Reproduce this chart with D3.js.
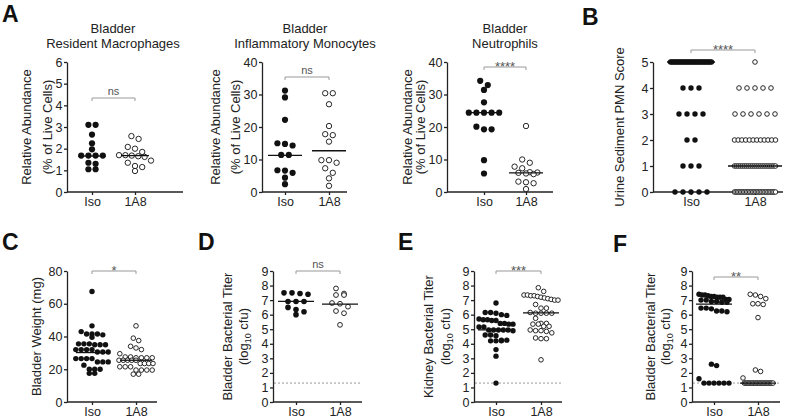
<!DOCTYPE html>
<html><head><meta charset="utf-8">
<script src="https://cdn.jsdelivr.net/npm/d3@7"></script>
<style>
body{margin:0;background:#fff}
text{font-family:"Liberation Sans",Arial,Helvetica,sans-serif;fill:#222}
</style>
</head><body>
<svg id="chart" width="789" height="418"></svg>
<script>
// ---------------- DATA ----------------
const groups = ["Iso", "1A8"];

// A: Bladder resident macrophages (% live cells)
const macroIso  = [3.1,3.1,2.65,2.25,1.97,1.68,1.68,1.68,1.68,1.35,1.3,1.05,1.05];
const macro1A8  = [2.58,2.45,2.08,2.0,1.85,1.7,1.7,1.68,1.65,1.62,1.45,1.35,1.2,1.15,0.97];
const macroMed  = [1.66, 1.68];
// A: Bladder inflammatory monocytes
const monoIso   = [31.2,29.1,22.2,15,14.8,14.3,11.4,11.4,6.7,6.6,5.9,4.4,2.4];
const mono1A8   = [30.4,30.4,27,20.3,17.8,17.5,15.5,9.8,9.8,9,7.3,5.9,4.2,1.9];
const monoMed   = [11.3, 12.7];
// A: Bladder neutrophils
const neutIso   = [34.2,32.9,31.4,27.6,24.4,24.4,24.4,24.4,24.4,20.1,19.3,19.3,9.8,5.7];
const neut1A8   = [20.3,10,9,7.8,7.3,6.1,6.0,5.9,5.7,5.5,3.2,3.0,2.7,0.9];
const neutMed   = [24.4, 5.9];
// B: Urine sediment PMN score (counts of animals per score)
const pmnScores   = [0,1,2,3,4,5];
const pmnIsoCount = [5,3,2,4,3,30];
const pmn1A8Count = [28,22,12,6,5,1];
const pmnMed      = [5, 1];
// C: Bladder weight (mg)
const weightIso = [67.5,46.5,43,41.5,41.5,41.5,41,39.5,35.5,35.5,35.5,35,35,35,32,32,32,32,30.5,30.5,30.5,26.5,26.5,26.5,26.5,24.5,24.5,24.5,22.5,20,20,20,17.5,17.5];
const weight1A8 = [46.5,39,37.5,34,33,32,29.5,27.5,27.5,27,27,27,27,25.5,25.5,25.5,25.5,25.5,23.5,23.5,23.5,23.5,21.5,21.5,21.5,19.5,19.5,19.5,19.5,17,17];
const weightMed = [30.2, 25.5];
// D: Bladder bacterial titer (log10 cfu)
const bladIso   = [7.5,7.45,7.4,7.5,6.9,6.9,6.9,6.35,6.0,6.2,6.5];
const blad1A8   = [7.8,7.35,7.35,7.45,6.75,6.8,6.55,6.25,6.1,5.3];
const bladMed   = [6.92, 6.73];
// E: Kidney bacterial titer (log10 cfu)
const kidIso    = [6.8,6.15,6.15,6.1,6.0,5.95,5.7,5.65,5.65,5.6,5.6,5.4,5.4,5.35,5.35,5.15,5.15,4.95,4.95,4.95,4.95,4.95,4.9,4.6,4.6,4.55,4.25,4.25,4.2,4.2,4.2,3.6,3.15,1.3];
const kid1A8    = [7.85,7.6,7.35,7.35,7.3,7.3,7.25,7.2,7.15,7.1,7.05,7.0,7.0,6.7,6.45,6.45,6.15,6.1,6.1,6.1,6.1,5.75,5.4,5.4,5.35,5.35,5.2,5.2,4.95,4.9,4.9,4.85,4.75,4.4,4.35,4.35,2.9];
const kidMed    = [4.95, 6.12];
// F: Bladder bacterial titer (log10 cfu), second experiment
const blad2Iso  = [7.4,7.35,7.35,7.3,7.25,7.2,7.2,7.25,7.2,7.05,7.05,7.0,7.0,6.9,6.9,6.85,6.85,6.45,6.45,6.4,6.25,6.25,6.2,2.6,2.5,1.6,1.3,1.3,1.3,1.3,1.3,1.3];
const blad21A8  = [7.4,7.35,7.25,7.1,6.75,6.7,6.75,5.8,2.2,2.1,1.65,1.3,1.3,1.3,1.3,1.3,1.3,1.3,1.3,1.3,1.3,1.3,1.3,1.3,1.3,1.3,1.3,1.3,1.3,1.3,1.3,1.3,1.3];
const blad2Med  = [6.73, 1.3];

const lod = 1.3;
const significance = ["ns","ns","****","****","*","ns","***","**"];

// expand PMN counts into values
const expand = (scores, counts) => scores.flatMap((s,i)=>d3.range(counts[i]).map(()=>s));
const pmnIso = expand(pmnScores, pmnIsoCount);
const pmn1A8 = expand(pmnScores, pmn1A8Count);

// ---------------- LAYOUT ----------------
const svg = d3.select("#chart");
const TOP1=62, BOT1=192, TOP2=271, BOT2=402;

const panels = [
 {iso:macroIso, tx:macro1A8, med:macroMed, dom:[0,6], ticks:d3.range(0,7), L:67, R:183, xs:[92,135], top:TOP1, bot:BOT1,
  title:["Bladder","Resident Macrophages"], tX:113, ylab:["Relative Abundance","(% of Live Cells)"], yX:[26,47], sig:significance[0], bY:98,
  r:3.1, step:7.2, maxW:32, mh:14},
 {iso:monoIso, tx:mono1A8, med:monoMed, dom:[0,40], ticks:d3.range(0,41,10), L:262, R:347, xs:[285,329], top:TOP1, bot:BOT1,
  title:["Bladder","Inflammatory Monocytes"], tX:305, ylab:["Relative Abundance","(% of Live Cells)"], yX:[215,235], sig:significance[1], bY:77,
  r:3.1, step:7.6, maxW:32, mh:17},
 {iso:neutIso, tx:neut1A8, med:neutMed, dom:[0,40], ticks:d3.range(0,41,10), L:447, R:553, xs:[484,526], top:TOP1, bot:BOT1,
  title:["Bladder","Neutrophils"], tX:505, ylab:["Relative Abundance","(% of Live Cells)"], yX:[407,420], sig:significance[2], bY:67,
  r:3.1, step:7.6, maxW:32, mh:17},
 {iso:pmnIso, tx:pmn1A8, med:pmnMed, dom:[0,5], ticks:d3.range(0,6), L:653, R:783, xs:[691,755], top:TOP1, bot:BOT1,
  title:null, ylab:["Urine Sediment PMN Score"], yX:[619], sig:significance[3], bY:50,
  r:2.7, step:8, maxW:41, mh:[24,27]},
 {iso:weightIso, tx:weight1A8, med:weightMed, dom:[0,80], ticks:d3.range(0,81,20), L:67, R:157, xs:[92,136], top:TOP2, bot:BOT2,
  title:null, ylab:["Bladder Weight  (mg)"], yX:[36], sig:significance[4], bY:271,
  r:2.7, step:5.4, maxW:34, mh:16},
 {iso:bladIso, tx:blad1A8, med:bladMed, dom:[0,9], ticks:d3.range(0,10), L:273, R:362, xs:[296,340], top:TOP2, bot:BOT2,
  title:null, ylab:["Bladder Bacterial Titer","LOG"], yX:[227,243], sig:significance[5], bY:271, lod:true,
  r:2.8, step:8, maxW:26, mh:18},
 {iso:kidIso, tx:kid1A8, med:kidMed, dom:[0,9], ticks:d3.range(0,10), L:474, R:562, xs:[496,541], top:TOP2, bot:BOT2,
  title:null, ylab:["Kidney Bacterial Titer","LOG"], yX:[428,445], sig:significance[6], bY:271, lod:true,
  r:2.7, step:5.4, maxW:34, mh:18},
 {iso:blad2Iso, tx:blad21A8, med:blad2Med, dom:[0,9], ticks:d3.range(0,10), L:692, R:780, xs:[714,758], top:TOP2, bot:BOT2,
  title:null, ylab:["Bladder Bacterial Titer","LOG"], yX:[650,665], sig:significance[7], bY:277, lod:true,
  r:2.7, step:5.2, maxW:30, mh:18},
];

const letters = [["A",2,22],["B",582,25],["C",2,250],["D",198,250],["E",398,250],["F",613,252]];

// row-based scatter layout (GraphPad-like)
function swarm(values, y, cx, d, step, maxW){
  const pts = values.map(v=>({v, py:y(v)})).sort((a,b)=>a.py-b.py);
  const rows=[]; let cur=null;
  pts.forEach(p=>{
    if(!cur || p.py - cur.y0 > d*0.95){ cur={y0:p.py, pts:[]}; rows.push(cur); }
    cur.pts.push(p);
  });
  rows.forEach(r=>{
    const n=r.pts.length;
    const s = n>1 ? Math.min(step, maxW/(n-1)) : 0;
    r.pts.forEach((p,i)=>{ p.px = cx + (i-(n-1)/2)*s; });
  });
  return pts;
}

panels.forEach(p=>{
  const g = svg.append("g");
  const y = d3.scaleLinear().domain(p.dom).range([p.bot, p.top]);
  const x = d3.scalePoint().domain(groups).range(p.xs);

  // LOD dotted line
  if(p.lod){
    g.append("line").attr("x1",p.L+1).attr("x2",p.R).attr("y1",y(lod)).attr("y2",y(lod))
      .attr("stroke","#999").attr("stroke-width",1).attr("stroke-dasharray","2,2");
  }

  // y axis
  const ya = g.append("g").attr("transform",`translate(${p.L},0)`)
    .call(d3.axisLeft(y).tickValues(p.ticks).tickSize(3).tickSizeOuter(0).tickPadding(1.5).tickFormat(d3.format("d")));
  ya.selectAll("path,line").attr("stroke","#222").attr("stroke-width",1.3);
  ya.selectAll("text").attr("font-size",12.5).attr("fill","#222").style("font-family","Liberation Sans, Arial, sans-serif");

  // x axis
  const xa = g.append("g").attr("transform",`translate(0,${p.bot})`)
    .call(d3.axisBottom(x).tickSize(3).tickSizeOuter(0).tickPadding(2));
  xa.select(".domain").remove();
  xa.selectAll("line").attr("stroke","#222").attr("stroke-width",1.3);
  xa.selectAll("text").attr("font-size",12.5).attr("fill","#222").style("font-family","Liberation Sans, Arial, sans-serif");
  g.append("line").attr("x1",p.L).attr("x2",p.R).attr("y1",p.bot).attr("y2",p.bot)
    .attr("stroke","#222").attr("stroke-width",1.3);

  // points
  const d = p.r*2;
  const isoPts = swarm(p.iso, y, x("Iso"), d, p.step, p.maxW);
  const txPts  = swarm(p.tx,  y, x("1A8"), d, p.step, p.maxW);
  g.selectAll(".iso").data(isoPts).join("circle")
    .attr("cx",q=>q.px).attr("cy",q=>q.py).attr("r",p.r).attr("fill","#111");
  g.selectAll(".tx").data(txPts).join("circle")
    .attr("cx",q=>q.px).attr("cy",q=>q.py).attr("r",p.r-0.4).attr("fill","#fff")
    .attr("stroke","#111").attr("stroke-width",0.9);

  // median lines
  groups.forEach((gr,i)=>{
    const mh = Array.isArray(p.mh) ? p.mh[i] : p.mh;
    g.append("line").attr("x1",x(gr)-mh).attr("x2",x(gr)+mh)
      .attr("y1",y(p.med[i])).attr("y2",y(p.med[i])).attr("stroke","#111").attr("stroke-width",1.3);
  });

  // significance bracket
  const x1=x("Iso"), x2=x("1A8"), by=p.bY;
  g.append("path").attr("d",`M${x1},${by+3}V${by}H${x2}V${by+3}`)
    .attr("fill","none").attr("stroke","#999").attr("stroke-width",1);
  const isStar = p.sig.startsWith("*");
  g.append("text").attr("x",(x1+x2)/2).attr("y", isStar ? by+3.5 : by-3)
    .attr("text-anchor","middle").attr("font-size", isStar ? 13 : 11).style("fill","#555")
    .text(p.sig);

  // title
  if(p.title){
    p.title.forEach((t,i)=>{
      g.append("text").attr("x",p.tX).attr("y",33+i*14.5).attr("text-anchor","middle")
        .attr("font-size",13).text(t);
    });
  }

  // y labels
  const cy = (p.top+p.bot)/2;
  p.ylab.forEach((t,i)=>{
    const tx = g.append("text").attr("transform",`translate(${p.yX[i]},${cy}) rotate(-90)`)
      .attr("text-anchor","middle").attr("dy","0.35em").attr("font-size",13);
    if(t==="LOG"){
      tx.append("tspan").text("(log");
      tx.append("tspan").attr("font-size",9).attr("dy","3").text("10");
      tx.append("tspan").attr("dy","-3").text(" cfu)");
    } else tx.text(t);
  });
});

svg.selectAll(".letter").data(letters).join("text")
  .attr("x",l=>l[1]).attr("y",l=>l[2]).attr("font-size",23).attr("font-weight","bold")
  .style("fill","#111").text(l=>l[0]);
</script>
</body></html>
